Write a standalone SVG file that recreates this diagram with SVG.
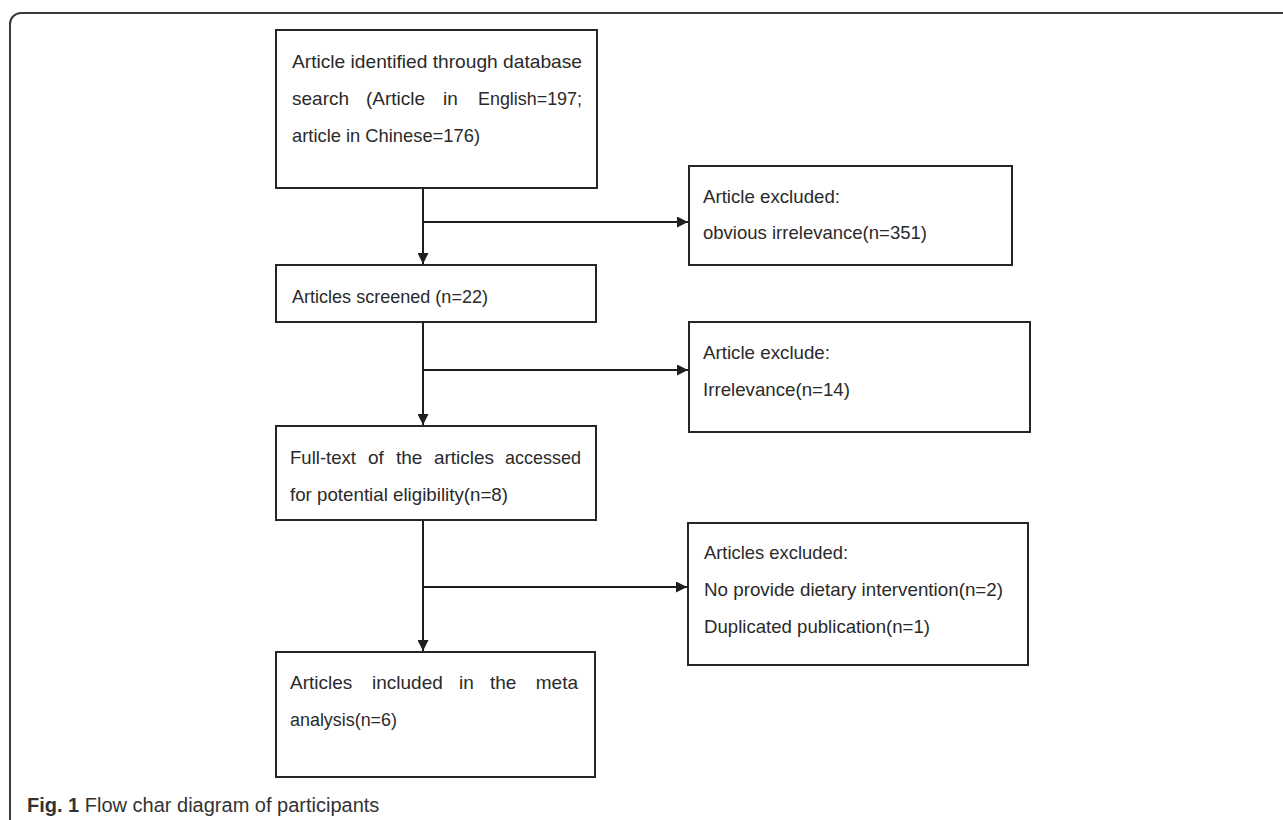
<svg xmlns="http://www.w3.org/2000/svg" width="1283" height="820" viewBox="0 0 1283 820">
<style>
  .box { fill: #ffffff; stroke: #262626; stroke-width: 2; }
  .t { font-family: "Liberation Sans", Arial, sans-serif; font-size: 19px; fill: #2a2a2a; }
  .conn { fill: none; stroke: #1e1e1e; stroke-width: 2; }
  .frame { fill: none; stroke: #3a3a3a; stroke-width: 2; }
  .cap { font-family: "Liberation Sans", Arial, sans-serif; font-size: 20px; fill: #333333; }
</style>
<defs>
  <marker id="ah" viewBox="0 0 10 10" refX="10" refY="5" markerWidth="12" markerHeight="11" markerUnits="userSpaceOnUse" orient="auto">
    <path d="M0,0 L10,5 L0,10 Z" fill="#1e1e1e"/>
  </marker>
</defs>
<rect width="1283" height="820" fill="#ffffff"/>
<path class="frame" d="M10,820 V24 A11,11 0 0 1 21,13 H1283"/>

<g id="connectors">
  <line class="conn" x1="423" y1="188" x2="423" y2="264" marker-end="url(#ah)"/>
  <line class="conn" x1="423" y1="222" x2="688" y2="222" marker-end="url(#ah)"/>
  <line class="conn" x1="423" y1="322" x2="423" y2="425" marker-end="url(#ah)"/>
  <line class="conn" x1="423" y1="370" x2="688" y2="370" marker-end="url(#ah)"/>
  <line class="conn" x1="423" y1="520" x2="423" y2="651" marker-end="url(#ah)"/>
  <line class="conn" x1="423" y1="587" x2="687" y2="587" marker-end="url(#ah)"/>
</g>

<g id="n1">
  <rect class="box" x="276" y="30" width="321" height="158"/>
  <text class="t" x="292" y="68" textLength="290" lengthAdjust="spacingAndGlyphs">Article identified through database</text>
  <text class="t" x="292" y="105">search</text>
  <text class="t" x="366" y="105">(Article</text>
  <text class="t" x="443" y="105">in</text>
  <text class="t" x="582" y="105" text-anchor="end" textLength="104" lengthAdjust="spacingAndGlyphs">English=197;</text>
  <text class="t" x="292" y="142" textLength="188" lengthAdjust="spacingAndGlyphs">article in Chinese=176)</text>
</g>

<g id="n2">
  <rect class="box" x="276" y="265" width="320" height="57"/>
  <text class="t" x="292" y="303" textLength="196" lengthAdjust="spacingAndGlyphs">Articles screened (n=22)</text>
</g>

<g id="n3">
  <rect class="box" x="276" y="426" width="320" height="94"/>
  <text class="t" x="290" y="464" textLength="66" lengthAdjust="spacingAndGlyphs">Full-text</text>
  <text class="t" x="368" y="464">of</text>
  <text class="t" x="396" y="464">the</text>
  <text class="t" x="434" y="464" textLength="60" lengthAdjust="spacingAndGlyphs">articles</text>
  <text class="t" x="505" y="464" textLength="76" lengthAdjust="spacingAndGlyphs">accessed</text>
  <text class="t" x="290" y="501" textLength="218" lengthAdjust="spacingAndGlyphs">for potential eligibility(n=8)</text>
</g>

<g id="n4">
  <rect class="box" x="276" y="652" width="319" height="125"/>
  <text class="t" x="290" y="689">Articles</text>
  <text class="t" x="372" y="689">included</text>
  <text class="t" x="459" y="689">in</text>
  <text class="t" x="490" y="689">the</text>
  <text class="t" x="578" y="689" text-anchor="end">meta</text>
  <text class="t" x="290" y="726" textLength="107" lengthAdjust="spacingAndGlyphs">analysis(n=6)</text>
</g>

<g id="r1">
  <rect class="box" x="689" y="166" width="323" height="99"/>
  <text class="t" x="703" y="203" textLength="137" lengthAdjust="spacingAndGlyphs">Article excluded:</text>
  <text class="t" x="703" y="239" textLength="224" lengthAdjust="spacingAndGlyphs">obvious irrelevance(n=351)</text>
</g>

<g id="r2">
  <rect class="box" x="689" y="322" width="341" height="110"/>
  <text class="t" x="703" y="359" textLength="127" lengthAdjust="spacingAndGlyphs">Article exclude:</text>
  <text class="t" x="703" y="396" textLength="147" lengthAdjust="spacingAndGlyphs">Irrelevance(n=14)</text>
</g>

<g id="r3">
  <rect class="box" x="688" y="523" width="340" height="142"/>
  <text class="t" x="704" y="559" textLength="144" lengthAdjust="spacingAndGlyphs">Articles excluded:</text>
  <text class="t" x="704" y="596" textLength="299" lengthAdjust="spacingAndGlyphs">No provide dietary intervention(n=2)</text>
  <text class="t" x="704" y="633" textLength="226" lengthAdjust="spacingAndGlyphs">Duplicated publication(n=1)</text>
</g>

<g id="caption">
  <text class="cap" x="27" y="812"><tspan font-weight="bold">Fig. 1</tspan> Flow char diagram of participants</text>
</g>
</svg>
